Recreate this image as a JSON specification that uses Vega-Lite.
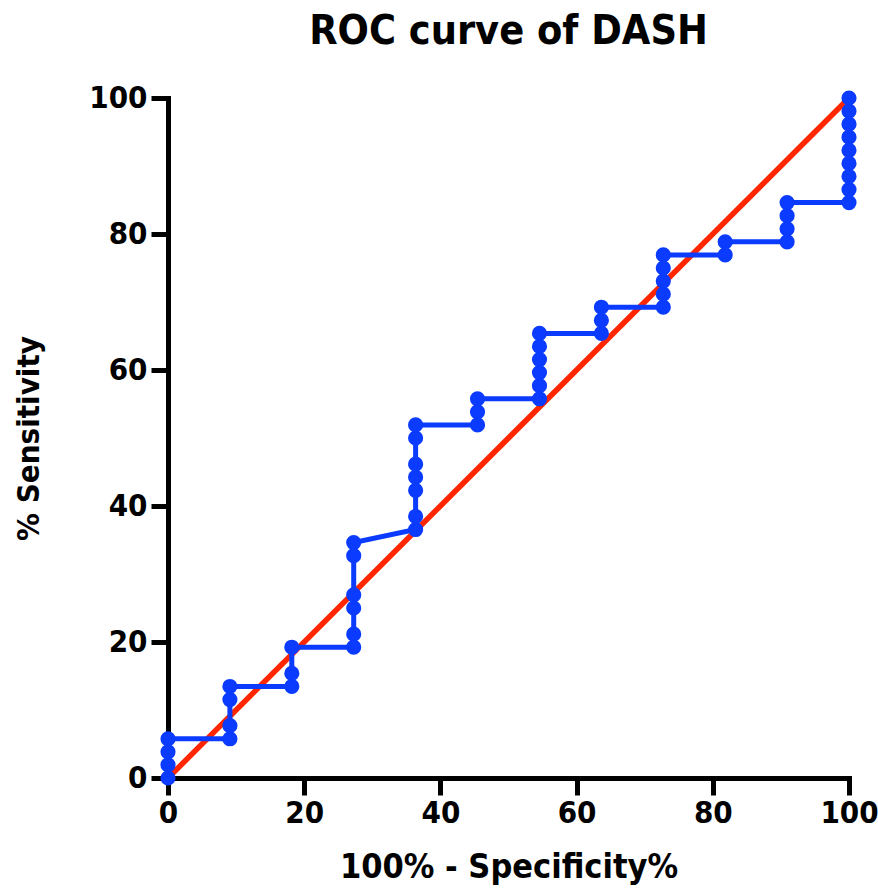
{
  "$schema": "https://vega.github.io/schema/vega-lite/v6.json",
  "autosize": "none",
  "width": 681,
  "height": 680,
  "padding": {"left": 168, "top": 98, "right": 29, "bottom": 116},
  "background": "white",
  "config": {"view": {"stroke": null}},
  "title": {"text": "ROC curve of DASH", "font": "DejaVu Sans Condensed, DejaVu Sans", "fontWeight": "bold", "fontSize": 41, "color": "black", "anchor": "middle", "offset": 29},
  "datasets": {
    "roc": [
      {"i": 1, "fpr": 0, "sens": 0},
      {"i": 2, "fpr": 0, "sens": 1.92},
      {"i": 3, "fpr": 0, "sens": 3.85},
      {"i": 4, "fpr": 0, "sens": 5.77},
      {"i": 5, "fpr": 9.09, "sens": 5.77},
      {"i": 6, "fpr": 9.09, "sens": 7.69},
      {"i": 7, "fpr": 9.09, "sens": 11.54},
      {"i": 8, "fpr": 9.09, "sens": 13.46},
      {"i": 9, "fpr": 18.18, "sens": 13.46},
      {"i": 10, "fpr": 18.18, "sens": 15.38},
      {"i": 11, "fpr": 18.18, "sens": 19.23},
      {"i": 12, "fpr": 27.27, "sens": 19.23},
      {"i": 13, "fpr": 27.27, "sens": 21.15},
      {"i": 14, "fpr": 27.27, "sens": 25},
      {"i": 15, "fpr": 27.27, "sens": 26.92},
      {"i": 16, "fpr": 27.27, "sens": 32.69},
      {"i": 17, "fpr": 27.27, "sens": 34.62},
      {"i": 18, "fpr": 36.36, "sens": 36.54},
      {"i": 19, "fpr": 36.36, "sens": 38.46},
      {"i": 20, "fpr": 36.36, "sens": 42.31},
      {"i": 21, "fpr": 36.36, "sens": 44.23},
      {"i": 22, "fpr": 36.36, "sens": 46.15},
      {"i": 23, "fpr": 36.36, "sens": 50},
      {"i": 24, "fpr": 36.36, "sens": 51.92},
      {"i": 25, "fpr": 45.45, "sens": 51.92},
      {"i": 26, "fpr": 45.45, "sens": 53.85},
      {"i": 27, "fpr": 45.45, "sens": 55.77},
      {"i": 28, "fpr": 54.55, "sens": 55.77},
      {"i": 29, "fpr": 54.55, "sens": 57.69},
      {"i": 30, "fpr": 54.55, "sens": 59.62},
      {"i": 31, "fpr": 54.55, "sens": 61.54},
      {"i": 32, "fpr": 54.55, "sens": 63.46},
      {"i": 33, "fpr": 54.55, "sens": 65.38},
      {"i": 34, "fpr": 63.64, "sens": 65.38},
      {"i": 35, "fpr": 63.64, "sens": 67.31},
      {"i": 36, "fpr": 63.64, "sens": 69.23},
      {"i": 37, "fpr": 72.73, "sens": 69.23},
      {"i": 38, "fpr": 72.73, "sens": 71.15},
      {"i": 39, "fpr": 72.73, "sens": 73.08},
      {"i": 40, "fpr": 72.73, "sens": 75},
      {"i": 41, "fpr": 72.73, "sens": 76.92},
      {"i": 42, "fpr": 81.82, "sens": 76.92},
      {"i": 43, "fpr": 81.82, "sens": 78.85},
      {"i": 44, "fpr": 90.91, "sens": 78.85},
      {"i": 45, "fpr": 90.91, "sens": 80.77},
      {"i": 46, "fpr": 90.91, "sens": 82.69},
      {"i": 47, "fpr": 90.91, "sens": 84.62},
      {"i": 48, "fpr": 100, "sens": 84.62},
      {"i": 49, "fpr": 100, "sens": 86.54},
      {"i": 50, "fpr": 100, "sens": 88.46},
      {"i": 51, "fpr": 100, "sens": 90.38},
      {"i": 52, "fpr": 100, "sens": 92.31},
      {"i": 53, "fpr": 100, "sens": 94.23},
      {"i": 54, "fpr": 100, "sens": 96.15},
      {"i": 55, "fpr": 100, "sens": 98.08},
      {"i": 56, "fpr": 100, "sens": 100}
    ],
    "ref": [
      {"i": 1, "fpr": 0, "sens": 0},
      {"i": 2, "fpr": 100, "sens": 100}
    ]
  },
  "encoding": {
    "x": {
      "field": "fpr", "type": "quantitative",
      "scale": {"domain": [0, 100], "nice": false, "zero": false},
      "axis": {
        "title": "100% - Specificity%",
        "values": [0, 20, 40, 60, 80, 100],
        "grid": false,
        "domainColor": "black", "domainWidth": 5, "domainCap": "square",
        "tickColor": "black", "tickWidth": 5, "tickSize": 17,
        "labelFont": "DejaVu Sans Condensed, DejaVu Sans", "labelFontWeight": "bold", "labelFontSize": 31, "labelColor": "black", "labelPadding": 3,
        "labelFlush": false, "labelOverlap": false,
        "titleFont": "DejaVu Sans Condensed, DejaVu Sans", "titleFontWeight": "bold", "titleFontSize": 34, "titleColor": "black",
        "titleX": 340.5, "titleY": 89, "titleBaseline": "middle", "titleAlign": "center"
      }
    },
    "y": {
      "field": "sens", "type": "quantitative",
      "scale": {"domain": [0, 100], "nice": false, "zero": false},
      "axis": {
        "title": "% Sensitivity",
        "values": [0, 20, 40, 60, 80, 100],
        "grid": false,
        "domainColor": "black", "domainWidth": 5, "domainCap": "square",
        "tickColor": "black", "tickWidth": 5, "tickSize": 17,
        "labelFont": "DejaVu Sans Condensed, DejaVu Sans", "labelFontWeight": "bold", "labelFontSize": 31, "labelColor": "black", "labelPadding": 4,
        "labelFlush": false, "labelOverlap": false,
        "titleFont": "DejaVu Sans Condensed, DejaVu Sans", "titleFontWeight": "bold", "titleFontSize": 31, "titleColor": "black",
        "titleAngle": -90, "titleX": -139, "titleY": 340, "titleBaseline": "middle", "titleAlign": "center"
      }
    }
  },
  "layer": [
    {
      "data": {"name": "ref"},
      "mark": {"type": "line", "color": "#FF2600", "strokeWidth": 5.5, "clip": false},
      "encoding": {"order": {"field": "i", "type": "quantitative"}}
    },
    {
      "data": {"name": "roc"},
      "mark": {"type": "line", "color": "#0B3BFF", "strokeWidth": 5, "clip": false},
      "encoding": {"order": {"field": "i", "type": "quantitative"}}
    },
    {
      "data": {"name": "roc"},
      "mark": {"type": "point", "shape": "circle", "filled": true, "opacity": 1, "color": "#0B3BFF", "size": 230, "clip": false},
      "encoding": {}
    }
  ]
}
